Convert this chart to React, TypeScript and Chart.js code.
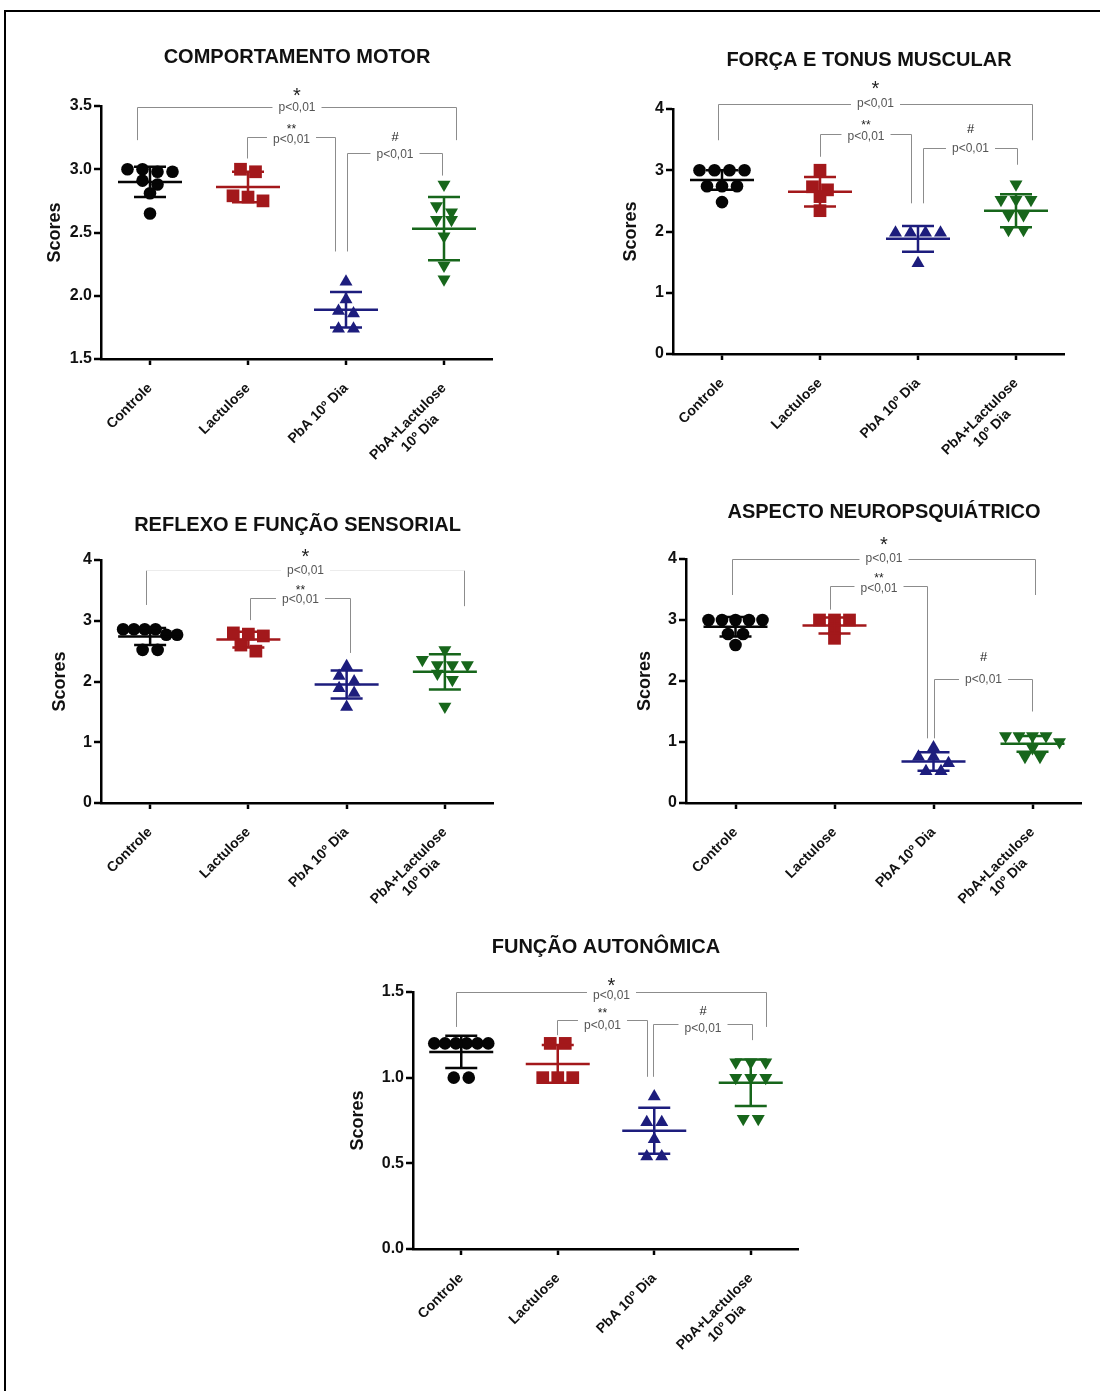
import React, { useEffect, useRef } from 'react';
import { Chart, registerables } from 'chart.js';

Chart.register(...registerables);

const FONT = '"Liberation Sans", Arial, Helvetica, sans-serif';

// ---------- shared data ----------
const categories: (string | string[])[] = ['Controle', 'Lactulose', 'PbA 10º Dia', ['PbA+Lactulose', '10º Dia']];
const significanceText = 'p<0,01';
const yAxisTitle = 'Scores';

// ---------- COMPORTAMENTO MOTOR ----------
const motorTitle = 'COMPORTAMENTO MOTOR';
const motorYTicks = ['1.5', '2.0', '2.5', '3.0', '3.5'];
const motorControle = [3.0, 3.0, 2.98, 2.98, 2.91, 2.88, 2.81, 2.65];
const motorLactulose = [3.0, 2.98, 2.79, 2.78, 2.75];
const motorPbA = [2.11, 1.97, 1.88, 1.86, 1.74, 1.74];
const motorPbALactulose = [2.88, 2.71, 2.66, 2.6, 2.6, 2.47, 2.24, 2.13];
const motorMeans = [2.9, 2.86, 1.89, 2.53];
const motorSD = [0.12, 0.12, 0.14, 0.25];
const motorBrackets = [
  { x0: -0.13, x1: 3.12, level: 3.49, end0: 3.23, end1: 3.23, mark: '*', lift: 16, drop: 0 },
  { x0: 0.99, x1: 1.89, level: 3.256, end0: 3.085, end1: 2.35, mark: '**', lift: 11, drop: 2 },
  { x0: 2.01, x1: 2.98, level: 3.13, end0: 2.35, end1: 2.95, mark: '#', lift: 17, drop: 1 },
];

// ---------- FORÇA E TONUS MUSCULAR ----------
const forcaTitle = 'FORÇA E TONUS MUSCULAR';
const forcaYTicks = ['0', '1', '2', '3', '4'];
const forcaControle = [3.0, 3.0, 3.0, 3.0, 2.74, 2.74, 2.74, 2.48];
const forcaLactulose = [3.0, 2.73, 2.68, 2.57, 2.34];
const forcaPbA = [1.98, 1.98, 1.98, 1.98, 1.48];
const forcaPbALactulose = [2.77, 2.52, 2.52, 2.52, 2.27, 2.27, 2.03, 2.03];
const forcaMeans = [2.84, 2.65, 1.88, 2.34];
const forcaSD = [0.16, 0.24, 0.21, 0.27];
const forcaBrackets = [
  { x0: -0.04, x1: 3.16, level: 4.08, end0: 3.49, end1: 3.49, mark: '*', lift: 20, drop: -1 },
  { x0: 1.0, x1: 1.93, level: 3.6, end0: 3.22, end1: 2.46, mark: '**', lift: 12, drop: 2 },
  { x0: 2.05, x1: 3.01, level: 3.36, end0: 2.46, end1: 3.09, mark: '#', lift: 20, drop: 0 },
];

// ---------- REFLEXO E FUNÇÃO SENSORIAL ----------
const reflexoTitle = 'REFLEXO E FUNÇÃO SENSORIAL';
const reflexoYTicks = ['0', '1', '2', '3', '4'];
const reflexoControle = [2.86, 2.86, 2.86, 2.86, 2.77, 2.77, 2.52, 2.52];
const reflexoLactulose = [2.8, 2.78, 2.75, 2.6, 2.5];
const reflexoPbA = [2.25, 2.09, 2.0, 1.89, 1.81, 1.58];
const reflexoPbALactulose = [2.52, 2.36, 2.27, 2.27, 2.27, 2.13, 2.03, 1.59];
const reflexoMeans = [2.74, 2.69, 1.95, 2.16];
const reflexoSD = [0.14, 0.13, 0.23, 0.29];
const reflexoBrackets = [
  { x0: -0.04, x1: 3.19, level: 3.84, end0: 3.26, end1: 3.24, mark: '*', lift: 18, drop: 0, faint: true },
  { x0: 1.02, x1: 2.03, level: 3.37, end0: 3.01, end1: 2.47, mark: '**', lift: 11, drop: 1 },
];

// ---------- ASPECTO NEUROPSQUIÁTRICO ----------
const aspectoTitle = 'ASPECTO NEUROPSQUIÁTRICO';
const aspectoYTicks = ['0', '1', '2', '3', '4'];
const aspectoControle = [3.0, 3.0, 3.0, 3.0, 3.0, 2.77, 2.77, 2.59];
const aspectoLactulose = [3.0, 3.0, 3.0, 2.85, 2.7];
const aspectoPbA = [0.91, 0.76, 0.76, 0.65, 0.52, 0.52];
const aspectoPbALactulose = [1.1, 1.1, 1.1, 1.1, 1.0, 0.9, 0.76, 0.76];
const aspectoMeans = [2.89, 2.91, 0.68, 0.97];
const aspectoSD = [0.16, 0.13, 0.15, 0.13];
const aspectoBrackets = [
  { x0: -0.04, x1: 3.03, level: 4.0, end0: 3.41, end1: 3.41, mark: '*', lift: 19, drop: -1 },
  { x0: 0.95, x1: 1.93, level: 3.55, end0: 3.17, end1: 1.06, mark: '**', lift: 11, drop: 2 },
  { x0: 2.0, x1: 2.99, level: 2.03, end0: 1.06, end1: 1.5, mark: '#', lift: 23, drop: 0 },
];

// ---------- FUNÇÃO AUTONÔMICA ----------
const autonomicaTitle = 'FUNÇÃO AUTONÔMICA';
const autonomicaYTicks = ['0.0', '0.5', '1.0', '1.5'];
const autonomicaControle = [1.2, 1.2, 1.2, 1.2, 1.2, 1.2, 1.0, 1.0];
const autonomicaLactulose = [1.2, 1.2, 1.0, 1.0, 1.0];
const autonomicaPbA = [0.89, 0.74, 0.74, 0.64, 0.54, 0.54];
const autonomicaPbALactulose = [1.09, 1.09, 1.09, 1.0, 1.0, 1.0, 0.76, 0.76];
const autonomicaMeans = [1.15, 1.08, 0.69, 0.97];
const autonomicaSD = [0.094, 0.11, 0.134, 0.136];
const autonomicaBrackets = [
  { x0: -0.05, x1: 3.16, level: 1.5, end0: 1.296, end1: 1.296, mark: '*', lift: 11, drop: 3 },
  { x0: 0.99, x1: 1.93, level: 1.335, end0: 1.248, end1: 1.005, mark: '**', lift: 10, drop: 5 },
  { x0: 1.99, x1: 3.01, level: 1.312, end0: 1.005, end1: 1.219, mark: '#', lift: 14, drop: 4 },
];

// ---------- styles & layout ----------
const groupStyles = [
  { color: '#050505', pointStyle: 'circle', radius: 6.3, rotation: 0 },
  { color: '#a3181b', pointStyle: 'rect', radius: 9, rotation: 0 },
  { color: '#1d1d7d', pointStyle: 'triangle', radius: 7.5, rotation: 0 },
  { color: '#17661b', pointStyle: 'triangle', radius: 7.5, rotation: 180 },
];

const TITLE_SIZE = 20;
const X_FONT_SIZE = 14;
const X_AXIS_H = 115;
const RIGHT_PAD = 30;
const DOT_GAP = 15;
const MAX_SPAN = 54;
const ROW_TOL = 7;
const MEAN_HALF = 32;
const CAP_HALF = 16;

type Bracket = { x0: number; x1: number; level: number; end0: number; end1: number; mark: string; lift: number; drop: number; faint?: boolean };
type PanelData = { title: string; yTicks: string[]; groups: number[][]; means: number[]; sds: number[]; brackets: Bracket[] };
type PanelLayout = { area: number[]; titleY: number; yTitleGap: number };

const panels: PanelData[] = [
  { title: motorTitle, yTicks: motorYTicks, groups: [motorControle, motorLactulose, motorPbA, motorPbALactulose], means: motorMeans, sds: motorSD, brackets: motorBrackets },
  { title: forcaTitle, yTicks: forcaYTicks, groups: [forcaControle, forcaLactulose, forcaPbA, forcaPbALactulose], means: forcaMeans, sds: forcaSD, brackets: forcaBrackets },
  { title: reflexoTitle, yTicks: reflexoYTicks, groups: [reflexoControle, reflexoLactulose, reflexoPbA, reflexoPbALactulose], means: reflexoMeans, sds: reflexoSD, brackets: reflexoBrackets },
  { title: aspectoTitle, yTicks: aspectoYTicks, groups: [aspectoControle, aspectoLactulose, aspectoPbA, aspectoPbALactulose], means: aspectoMeans, sds: aspectoSD, brackets: aspectoBrackets },
  { title: autonomicaTitle, yTicks: autonomicaYTicks, groups: [autonomicaControle, autonomicaLactulose, autonomicaPbA, autonomicaPbALactulose], means: autonomicaMeans, sds: autonomicaSD, brackets: autonomicaBrackets },
];

const layouts: PanelLayout[] = [
  { area: [101, 106, 493, 359], titleY: 57, yTitleGap: 46 },
  { area: [673, 109, 1065, 354], titleY: 60, yTitleGap: 42 },
  { area: [101, 560, 494, 803], titleY: 525, yTitleGap: 41 },
  { area: [686, 559, 1082, 803], titleY: 512, yTitleGap: 41 },
  { area: [413, 992, 799, 1249], titleY: 947, yTitleGap: 55 },
];

// Column-scatter layout (rows of near-equal values spread symmetrically)
function swarmOffsets(values: number[], pxPerY: number, pxPerX: number): number[] {
  const order = values.map((_, i) => i).sort((a, b) => values[b] - values[a]);
  const offsets = new Array(values.length).fill(0);
  let row: number[] = [];
  const flush = () => {
    const n = row.length;
    const spacing = n > 1 ? Math.min(DOT_GAP, MAX_SPAN / (n - 1)) : 0;
    row.forEach((k, j) => {
      offsets[k] = ((j - (n - 1) / 2) * spacing) / pxPerX;
    });
    row = [];
  };
  for (const i of order) {
    if (row.length && (values[row[0]] - values[i]) * pxPerY > ROW_TOL) flush();
    row.push(i);
  }
  flush();
  return offsets;
}

const measureCtx = typeof document !== 'undefined' ? document.createElement('canvas').getContext('2d') : null;
function centeredLines(lines: string[]): string[] {
  if (!measureCtx) return lines;
  measureCtx.font = `bold ${X_FONT_SIZE}px ${FONT}`;
  const widths = lines.map((l) => measureCtx.measureText(l).width);
  const maxW = Math.max(...widths);
  const spaceW = measureCtx.measureText(' ').width;
  return lines.map((l, i) => l + ' '.repeat(Math.max(0, Math.round((maxW - widths[i]) / 2 / spaceW))));
}

function drawCenteredText(ctx: CanvasRenderingContext2D, text: string, x: number, cy: number) {
  const m = ctx.measureText(text);
  const asc = m.actualBoundingBoxAscent;
  const desc = m.actualBoundingBoxDescent;
  ctx.textBaseline = 'alphabetic';
  ctx.textAlign = 'center';
  ctx.fillText(text, x, cy + (asc - desc) / 2);
}

function Panel({ panel, layout }: { panel: PanelData; layout: PanelLayout }) {
  const ref = useRef<HTMLCanvasElement>(null);
  const [L, T, R, B] = layout.area;
  const yw = layout.yTitleGap + 15;
  const titleLH = TITLE_SIZE * 1.2;
  const left = L - yw;
  const top = layout.titleY - 4 - titleLH / 2;
  const width = Math.round(yw + (R - L) + RIGHT_PAD);
  const titlePadBottom = T - layout.titleY - titleLH / 2;
  const height = Math.round(T - top + (B - T) + X_AXIS_H);

  useEffect(() => {
    const yVals = panel.yTicks.map(Number);
    const yMin = yVals[0];
    const yMax = yVals[yVals.length - 1];
    const pxPerY = (B - T) / (yMax - yMin);
    const pxPerX = (R - L) / categories.length;

    const datasets = panel.groups.map((vals, g) => {
      const offs = swarmOffsets(vals, pxPerY, pxPerX);
      const st = groupStyles[g];
      return {
        label: Array.isArray(categories[g]) ? (categories[g] as string[]).join(' ') : (categories[g] as string),
        data: vals.map((v, i) => ({ x: g + offs[i], y: v })),
        showLine: false,
        pointStyle: st.pointStyle as any,
        pointRadius: st.radius,
        pointRotation: st.rotation,
        pointBackgroundColor: st.color,
        pointBorderColor: st.color,
        pointBorderWidth: 0,
        backgroundColor: st.color,
        borderColor: st.color,
      };
    });

    const annotations = {
      id: 'meanSdBrackets',
      afterDatasetsDraw(chart: any) {
        const ctx: CanvasRenderingContext2D = chart.ctx;
        const xs = chart.scales.x;
        const ys = chart.scales.y;
        ctx.save();
        panel.means.forEach((m, g) => {
          const cx = xs.getPixelForValue(g);
          const ym = ys.getPixelForValue(m);
          const yt = ys.getPixelForValue(m + panel.sds[g]);
          const yb = ys.getPixelForValue(m - panel.sds[g]);
          ctx.strokeStyle = groupStyles[g].color;
          ctx.lineWidth = 2.5;
          ctx.lineCap = 'butt';
          ctx.beginPath();
          ctx.moveTo(cx - MEAN_HALF, ym);
          ctx.lineTo(cx + MEAN_HALF, ym);
          ctx.moveTo(cx - CAP_HALF, yt);
          ctx.lineTo(cx + CAP_HALF, yt);
          ctx.moveTo(cx - CAP_HALF, yb);
          ctx.lineTo(cx + CAP_HALF, yb);
          ctx.moveTo(cx, yt);
          ctx.lineTo(cx, yb);
          ctx.stroke();
        });
        ctx.restore();
      },
      afterDraw(chart: any) {
        const ctx: CanvasRenderingContext2D = chart.ctx;
        const xs = chart.scales.x;
        const ys = chart.scales.y;
        ctx.save();
        panel.brackets.forEach((b) => {
          const xa = Math.round(xs.getPixelForValue(b.x0)) + 0.5;
          const xb = Math.round(xs.getPixelForValue(b.x1)) + 0.5;
          const yl = Math.round(ys.getPixelForValue(b.level)) + 0.5;
          const ya = ys.getPixelForValue(b.end0);
          const yb = ys.getPixelForValue(b.end1);
          const cx = (xa + xb) / 2;
          ctx.font = `12px ${FONT}`;
          const tw = ctx.measureText(significanceText).width;
          const gap = tw / 2 + 6;
          ctx.lineWidth = 1;
          ctx.strokeStyle = '#8c8c8c';
          ctx.beginPath();
          ctx.moveTo(xa, ya);
          ctx.lineTo(xa, yl);
          ctx.moveTo(xb, yl);
          ctx.lineTo(xb, yb);
          ctx.stroke();
          ctx.strokeStyle = b.faint ? '#ececec' : '#8c8c8c';
          ctx.beginPath();
          ctx.moveTo(xa, yl);
          ctx.lineTo(cx - gap, yl);
          ctx.moveTo(cx + gap, yl);
          ctx.lineTo(xb, yl);
          ctx.stroke();
          ctx.fillStyle = '#555555';
          drawCenteredText(ctx, significanceText, cx, yl + b.drop);
          ctx.fillStyle = '#222222';
          ctx.font = b.mark === '*' ? `20px ${FONT}` : b.mark === '#' ? `13px ${FONT}` : `12px ${FONT}`;
          drawCenteredText(ctx, b.mark, cx, yl - b.lift);
        });
        ctx.restore();
      },
    };

    const tickGrid = (len: number) => ({
      display: true,
      drawOnChartArea: false,
      drawTicks: true,
      tickLength: len,
      tickWidth: 2.5,
      tickColor: '#000',
      lineWidth: 0,
    });

    const chart = new Chart(ref.current as HTMLCanvasElement, {
      type: 'scatter',
      data: { datasets: datasets as any },
      options: {
        responsive: false,
        animation: false,
        events: [],
        layout: { padding: { left: 0, right: RIGHT_PAD, top: 0, bottom: 0 } },
        plugins: {
          legend: { display: false },
          tooltip: { enabled: false },
          title: {
            display: true,
            text: panel.title,
            fullSize: false,
            color: '#111',
            font: { family: FONT, size: TITLE_SIZE, weight: 'bold', lineHeight: 1.2 },
            padding: { top: 4, bottom: titlePadBottom },
          },
        },
        scales: {
          x: {
            type: 'linear',
            min: -0.5,
            max: categories.length - 0.5,
            afterBuildTicks: (s: any) => {
              s.ticks = categories.map((_, i) => ({ value: i }));
            },
            afterFit: (s: any) => {
              s.height = X_AXIS_H;
            },
            ticks: {
              autoSkip: false,
              minRotation: 45,
              maxRotation: 45,
              padding: 15,
              color: '#111',
              font: { family: FONT, size: X_FONT_SIZE, weight: 'bold' },
              callback: (v: any) => {
                const lab = categories[Math.round(Number(v))];
                if (lab === undefined) return '';
                return Array.isArray(lab) ? centeredLines(lab) : lab;
              },
            },
            grid: tickGrid(6),
            border: { display: true, width: 2.5, color: '#000' },
          },
          y: {
            type: 'linear',
            min: yMin,
            max: yMax,
            afterBuildTicks: (s: any) => {
              s.ticks = yVals.map((v) => ({ value: v }));
            },
            afterFit: (s: any) => {
              s.width = yw;
            },
            ticks: {
              padding: 2,
              color: '#111',
              font: { family: FONT, size: 16, weight: 'bold' },
              callback: (_v: any, i: number) => panel.yTicks[i],
            },
            grid: tickGrid(7),
            border: { display: true, width: 2.5, color: '#000' },
            title: {
              display: true,
              text: yAxisTitle,
              color: '#111',
              font: { family: FONT, size: 18, weight: 'bold', lineHeight: 1.2 },
              padding: { top: 4, bottom: 0 },
            },
          },
        },
      },
      plugins: [annotations],
    } as any);
    return () => chart.destroy();
  }, []);

  return (
    <canvas
      ref={ref}
      width={width}
      height={height}
      style={{ position: 'absolute', left, top, width, height }}
    />
  );
}

export default function App() {
  return (
    <div
      style={{
        position: 'absolute',
        left: 0,
        top: 0,
        width: 1100,
        height: 1391,
        overflow: 'hidden',
        background: '#ffffff',
      }}
    >
      <div
        style={{
          position: 'absolute',
          left: 4,
          top: 10,
          width: 1200,
          height: 1500,
          borderTop: '2px solid #000',
          borderLeft: '2px solid #000',
        }}
      />
      {panels.map((p, i) => (
        <Panel key={p.title} panel={p} layout={layouts[i]} />
      ))}
    </div>
  );
}
